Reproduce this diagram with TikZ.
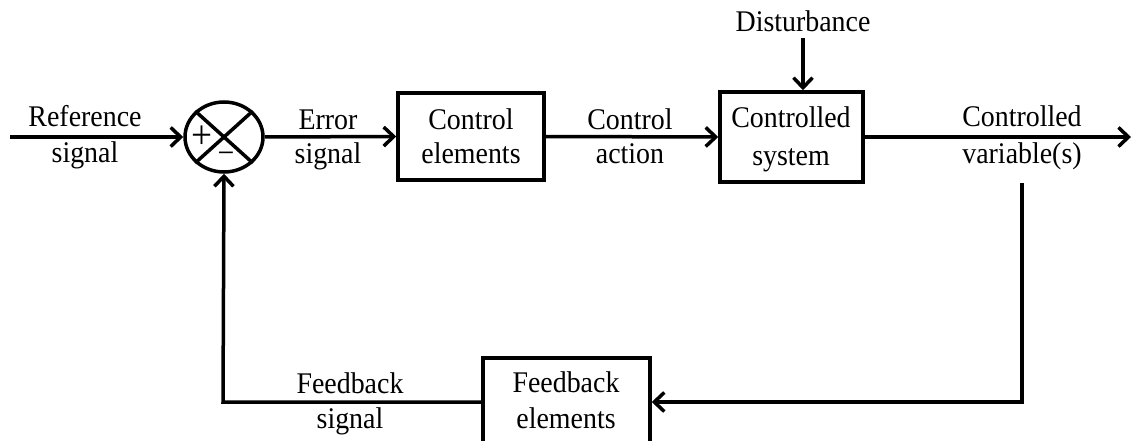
\documentclass[tikz,border=0pt]{standalone}
\usepackage{fontspec}
\setmainfont[FakeStretch=0.93]{Liberation Serif}
\usetikzlibrary{arrows.meta,shapes.geometric}
\begin{document}
\begin{tikzpicture}[x=1pt,y=-1pt,
  every node/.style={font=\fontsize{30}{35}\selectfont},
  blk/.style={draw,line width=3.5pt,rectangle,inner sep=0pt},
  lbl/.style={anchor=base,inner sep=0pt},
  sgn/.style={inner sep=0pt,font=\fontsize{40}{40}\selectfont},
  arr/.style={line width=3.5pt,-{Straight Barb[length=10pt,width=19pt]}}]
\useasboundingbox (0,0) rectangle (1132,441);
% blocks
\node[draw,line width=3.5pt,ellipse,minimum width=78pt,minimum height=70pt,inner sep=0pt] (sum) at (224,137) {};
\node[blk,minimum width=146pt,minimum height=87pt] (ctrl) at (471,136.5) {};
\node[blk,minimum width=143pt,minimum height=90pt] (sys) at (791.5,137) {};
\node[blk,minimum width=167pt,minimum height=88pt] (fb) at (566.5,402) {};
% cross inside summing junction
\draw[line width=3.5pt] (sum.north west) -- (sum.south east);
\draw[line width=3.5pt] (sum.north east) -- (sum.south west);
\node[sgn] (plus) at (202,137) {+};
\node[sgn,font=\fontsize{32}{32}\selectfont] (minus) at (226,158) {−};
% texts inside blocks
\node[lbl] (t1) at (471,130) {Control};
\node[lbl] (t2) at (471,163) {elements};
\node[lbl] (t3) at (791,128) {Controlled};
\node[lbl] (t4) at (791,165) {system};
\node[lbl] (t5) at (566,392) {Feedback};
\node[lbl] (t6) at (566,428) {elements};
% signal labels
\node[lbl] (r1) at (85,127) {Reference};
\node[lbl] (r2) at (85,162) {signal};
\node[lbl] (e1) at (328,129) {Error};
\node[lbl] (e2) at (328,163) {signal};
\node[lbl] (a1) at (630,129) {Control};
\node[lbl] (a2) at (630,163) {action};
\node[lbl] (v1) at (1022,127) {Controlled};
\node[lbl] (v2) at (1022,163) {variable(s)};
\node[lbl] (f1) at (350,393) {Feedback};
\node[lbl] (f2) at (350,428) {signal};
\node[lbl] (dist) at (803,32) {Disturbance};
% coordinates
\coordinate (in) at (10,137);
\coordinate (out) at (1131,137);
\coordinate (dtop) at (803,38);
\coordinate (tap) at (1022,183);
\coordinate (corner) at (1022,402);
\coordinate (lcorner) at (223,402);
% connectors
\draw[arr] (in) -- (sum.west);
\draw[arr] (sum.east) -- (ctrl.west);
\draw[arr] (ctrl.east) -- (sys.west);
\draw[arr] (sys.east) -- (out);
\draw[arr] (dtop) -- (dtop |- sys.north);
\draw[arr] (tap) -- (corner) -- (fb.east);
\draw[arr] (fb.west) -- (lcorner) -- (sum.south);
\end{tikzpicture}
\end{document}
